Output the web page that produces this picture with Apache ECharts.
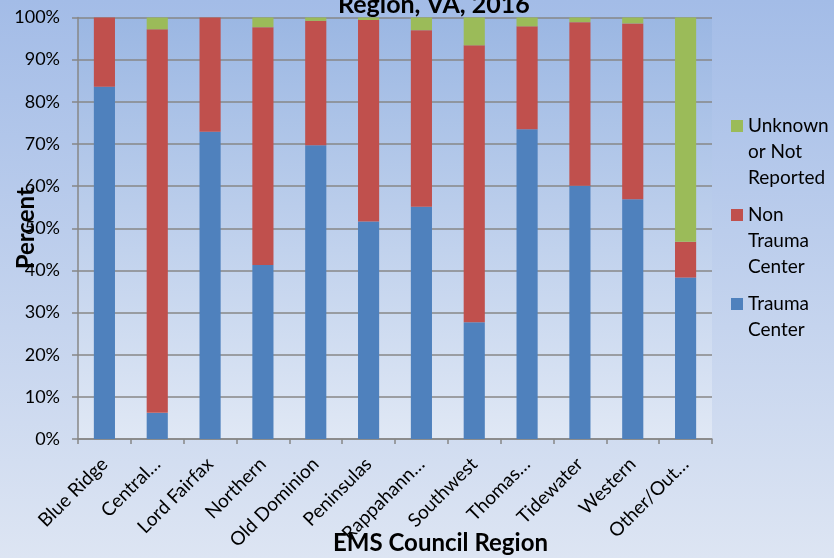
<!DOCTYPE html>
<html>
<head>
<meta charset="utf-8">
<script src="https://cdn.jsdelivr.net/npm/echarts@6/dist/echarts.min.js"></script>
<style>
html,body{margin:0;padding:0;}
#main{width:834px;height:558px;}
</style>
</head>
<body>
<div id="main"></div>
<script>
// data (percent of patients)
var regions = ['Blue Ridge', 'Central…', 'Lord Fairfax', 'Northern', 'Old Dominion', 'Peninsulas',
    'Rappahann…', 'Southwest', 'Thomas…', 'Tidewater', 'Western', 'Other/Out…'];
var traumaCenter = [83.6, 6.2, 72.9, 41.3, 69.7, 51.6, 55.1, 27.7, 73.5, 60.1, 56.9, 38.3];
var nonTraumaCenter = [16.4, 91.0, 27.1, 56.4, 29.5, 47.8, 41.9, 65.7, 24.4, 38.8, 41.7, 8.5];
var unknownNotReported = [0, 2.8, 0, 2.3, 0.8, 0.6, 3.0, 6.6, 2.1, 1.1, 1.4, 53.2];
var yTicks = [0, 10, 20, 30, 40, 50, 60, 70, 80, 90, 100];

// legend text: two blank lines on top so the square sits beside the first line
var legendText = {
    'Unknown or Not Reported': '\n\nUnknown\nor Not\nReported',
    'Non Trauma Center': '\n\nNon\nTrauma\nCenter',
    'Trauma Center': '\n\nTrauma\nCenter\n'
};

var myChart = echarts.init(document.getElementById('main'));
var grey = '#878787';

var option = {
    backgroundColor: new echarts.graphic.LinearGradient(0, 0, 0, 1, [
        {offset: 0, color: '#a3bce7'},
        {offset: 1, color: '#dde5f3'}
    ]),
    textStyle: {fontFamily: 'Lato', color: '#000'},
    animation: false,
    title: {
        text: 'Region, VA, 2016',
        left: 338,
        top: -8,
        padding: 0,
        textStyle: {fontSize: 25, fontWeight: 'bold', color: '#000', fontFamily: 'Lato'}
    },
    grid: {
        left: 78, right: 122, top: 17.5, bottom: 119,
        outerBoundsMode: 'none',
        containLabel: false,
        show: true,
        borderWidth: 0,
        backgroundColor: new echarts.graphic.LinearGradient(0, 0, 0, 1, [
            {offset: 0, color: '#9bb7e3'},
            {offset: 1, color: '#e0e8f5'}
        ])
    },
    legend: {
        orient: 'vertical',
        left: 731,
        top: 61,
        padding: 0,
        itemWidth: 12,
        itemHeight: 12,
        itemGap: -41,
        icon: 'rect',
        data: ['Unknown or Not Reported', 'Non Trauma Center', 'Trauma Center'],
        formatter: function (name) { return legendText[name]; },
        textStyle: {fontSize: 19, lineHeight: 26, color: '#000', fontFamily: 'Lato'}
    },
    xAxis: {
        type: 'category',
        data: regions,
        axisLine: {lineStyle: {color: grey, width: 1.5}},
        axisTick: {show: true, length: 5, lineStyle: {color: grey, width: 1.5}},
        axisLabel: {interval: 0, rotate: 45, fontSize: 19, color: '#000', margin: 22}
    },
    yAxis: {
        type: 'value',
        min: yTicks[0],
        max: yTicks[yTicks.length - 1],
        interval: 10,
        name: 'Percent',
        nameLocation: 'middle',
        nameRotate: 90,
        nameGap: 40,
        nameMoveOverlap: false,
        nameTextStyle: {fontSize: 24, fontWeight: 'bold', color: '#000'},
        axisLine: {show: true, lineStyle: {color: grey, width: 1.5}},
        axisTick: {show: true, length: 6, lineStyle: {color: grey, width: 1.5}},
        axisLabel: {formatter: '{value}%', fontSize: 18, color: '#000', margin: 18},
        splitLine: {lineStyle: {color: grey, width: 1.5}}
    },
    graphic: [{
        type: 'text',
        left: 333,
        top: 531,
        style: {text: 'EMS Council Region', fontSize: 24, fontWeight: 'bold', fill: '#000', fontFamily: 'Lato'}
    }],
    series: [
        {
            name: 'Trauma Center',
            type: 'bar',
            stack: 'total',
            barCategoryGap: '60%',
            itemStyle: {color: '#4f81bd'},
            data: traumaCenter
        },
        {
            name: 'Non Trauma Center',
            type: 'bar',
            stack: 'total',
            itemStyle: {color: '#c0504d'},
            data: nonTraumaCenter
        },
        {
            name: 'Unknown or Not Reported',
            type: 'bar',
            stack: 'total',
            itemStyle: {color: '#9bbb59'},
            data: unknownNotReported
        }
    ]
};

myChart.setOption(option);
</script>
</body>
</html>
